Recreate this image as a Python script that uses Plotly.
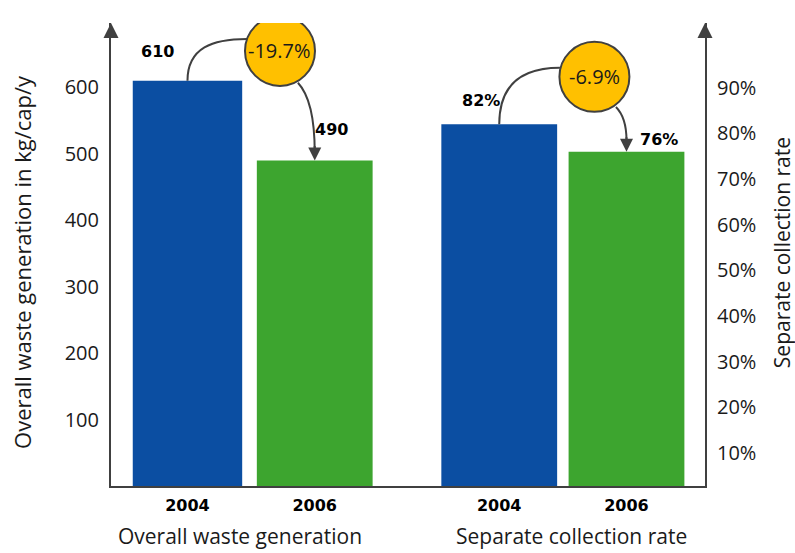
import plotly.graph_objects as go

# ---------------- data ----------------
years = ["2004", "2006"]
groups = ["Overall waste generation", "Separate collection rate"]
waste_kg = [610, 490]            # kg/cap/y
collection_rate = [82, 76]       # %
changes = ["-19.7%", "-6.9%"]
left_ticks = [100, 200, 300, 400, 500, 600]
right_ticks = [10, 20, 30, 40, 50, 60, 70, 80, 90]

# ---------------- styling ----------------
BLUE = "#0B4EA2"
GREEN = "#3DA52F"
GOLD = "#FFC000"
AXIS = "#404040"
TXT = "#1a1a1a"
FONT = "Open Sans"
BOLD = "DejaVu Sans"
GROUP_GAP = 2.45

pos_w = [0 * GROUP_GAP + i for i in range(len(years))]
pos_r = [1 * GROUP_GAP + i for i in range(len(years))]

fig = go.Figure()
fig.add_trace(go.Bar(x=pos_w, y=waste_kg, width=[0.86, 0.91],
                     marker=dict(color=[BLUE, GREEN], line=dict(width=0)),
                     yaxis="y", showlegend=False, hoverinfo="skip"))
fig.add_trace(go.Bar(x=pos_r, y=collection_rate, width=[0.91, 0.91],
                     marker=dict(color=[BLUE, GREEN], line=dict(width=0)),
                     yaxis="y2", showlegend=False, hoverinfo="skip"))

shapes = []
annotations = []

# connectors (left group, y axis)
cw = (pos_w[0] + 0.727, 655)
shapes.append(dict(type="path", xref="x", yref="y",
                   path=f"M {pos_w[0]},{waste_kg[0]} C {pos_w[0]},{660} {pos_w[0]+0.2},{673} {pos_w[0]+0.468},{673}",
                   line=dict(color=AXIS, width=2)))
shapes.append(dict(type="path", xref="x", yref="y",
                   path=f"M {pos_w[0]+0.868},{607} Q {pos_w[1]},{580} {pos_w[1]},{waste_kg[1]+12}",
                   line=dict(color=AXIS, width=2)))
# connectors (right group, y2 axis)
cr = (pos_r[0] + 0.748, 92.4)
shapes.append(dict(type="path", xref="x", yref="y2",
                   path=f"M {pos_r[0]},{collection_rate[0]} C {pos_r[0]},{90} {pos_r[0]+0.15},{94.4} {pos_r[0]+0.477},{94.4}",
                   line=dict(color=AXIS, width=2)))
shapes.append(dict(type="path", xref="x", yref="y2",
                   path=f"M {pos_r[0]+0.917},{85.8} Q {pos_r[1]},{83.5} {pos_r[1]},{collection_rate[1]+2.5}",
                   line=dict(color=AXIS, width=2)))

# circles
for (cx, cy), yref in [(cw, "y"), (cr, "y2")]:
    shapes.append(dict(type="circle", xref="x", yref=yref, xsizemode="pixel", ysizemode="pixel",
                       xanchor=cx, yanchor=cy, x0=-35, x1=35, y0=-35, y1=35,
                       fillcolor=GOLD, line=dict(color=AXIS, width=2)))
cfont = dict(family=FONT, size=20, color=TXT)
annotations.append(dict(x=cw[0], y=cw[1], xref="x", yref="y", text=changes[0], showarrow=False,
                        xanchor="center", yanchor="middle", font=cfont))
annotations.append(dict(x=cr[0], y=cr[1], xref="x", yref="y2", text=changes[1], showarrow=False,
                        xanchor="center", yanchor="middle", font=cfont))

# arrowheads onto 2006 bars
annotations.append(dict(x=pos_w[1], y=waste_kg[1], xref="x", yref="y", text="", showarrow=True,
                        ax=0, ay=-16, arrowhead=2, arrowsize=1.3, arrowwidth=2, arrowcolor=AXIS))
annotations.append(dict(x=pos_r[1], y=collection_rate[1], xref="x", yref="y2", text="", showarrow=True,
                        ax=0, ay=-16, arrowhead=2, arrowsize=1.3, arrowwidth=2, arrowcolor=AXIS))

# value labels
lbl_font = dict(family=BOLD, size=16, color="#000000")
val_specs = [
    (pos_w[0] - 0.232, waste_kg[0] + 44, "y", f"<b>{waste_kg[0]}</b>"),
    (pos_w[1] + 0.134, waste_kg[1] + 46, "y", f"<b>{waste_kg[1]}</b>"),
    (pos_r[0] - 0.145, collection_rate[0] + 5.2, "y2", f"<b>{collection_rate[0]}%</b>"),
    (pos_r[1] + 0.255, collection_rate[1] + 2.6, "y2", f"<b>{collection_rate[1]}%</b>"),
]
for x, y, yref, t in val_specs:
    annotations.append(dict(x=x, y=y, xref="x", yref=yref, text=t, showarrow=False,
                            xanchor="center", yanchor="middle", font=lbl_font))

# axis arrowheads
for xp in [0, 1]:
    annotations.append(dict(x=xp, y=1, xref="paper", yref="paper", text="", showarrow=True,
                            ax=0, ay=16, arrowhead=2, arrowsize=1.5, arrowwidth=2, arrowcolor=AXIS))

# axis titles
annotations.append(dict(x=-0.1498, y=0.484, xref="paper", yref="paper", textangle=-90,
                        xanchor="center", yanchor="middle",
                        text="Overall waste generation in kg/cap/y", showarrow=False,
                        font=dict(family=FONT, size=22, color=TXT)))
annotations.append(dict(x=1.1296, y=0.505, xref="paper", yref="paper", textangle=-90,
                        xanchor="center", yanchor="middle",
                        text="Separate collection rate", showarrow=False,
                        font=dict(family=FONT, size=21, color=TXT)))
# group titles
gfont = dict(family=FONT, size=21, color=TXT)
annotations.append(dict(x=pos_w[0] + 0.4126, y=-0.108, xref="x", yref="paper",
                        xanchor="center", yanchor="middle",
                        text=groups[0], showarrow=False, font=gfont))
annotations.append(dict(x=pos_r[0] + 0.569, y=-0.108, xref="x", yref="paper",
                        xanchor="center", yanchor="middle",
                        text=groups[1], showarrow=False, font=gfont))

fig.update_layout(
    width=795, height=553,
    margin=dict(l=111, r=90, t=23, b=67),
    paper_bgcolor="white", plot_bgcolor="white",
    barmode="overlay",
    shapes=shapes, annotations=annotations,
    xaxis=dict(range=[-0.601, 4.067], tickvals=pos_w + pos_r,
               ticktext=[f"<b>{y}</b>" for y in years + years],
               tickfont=dict(family=BOLD, size=16, color="#000000"),
               showline=True, linecolor=AXIS, linewidth=2, ticks="", showgrid=False, zeroline=False,
               ticklabelstandoff=4),
    yaxis=dict(range=[0, 697], tickvals=left_ticks, ticktext=[str(v) for v in left_ticks],
               showline=True, linecolor=AXIS, linewidth=2,
               ticks="", showgrid=False, zeroline=False, ticklabelstandoff=6,
               tickfont=dict(family=FONT, size=20, color=TXT)),
    yaxis2=dict(range=[2.77, 104.2], tickvals=right_ticks, ticktext=[f"{v}%" for v in right_ticks],
                overlaying="y", side="right",
                showline=True, linecolor=AXIS, linewidth=2, ticks="", showgrid=False, zeroline=False,
                ticklabelstandoff=6, tickfont=dict(family=FONT, size=20, color=TXT)),
)

fig.write_html("out.html")
